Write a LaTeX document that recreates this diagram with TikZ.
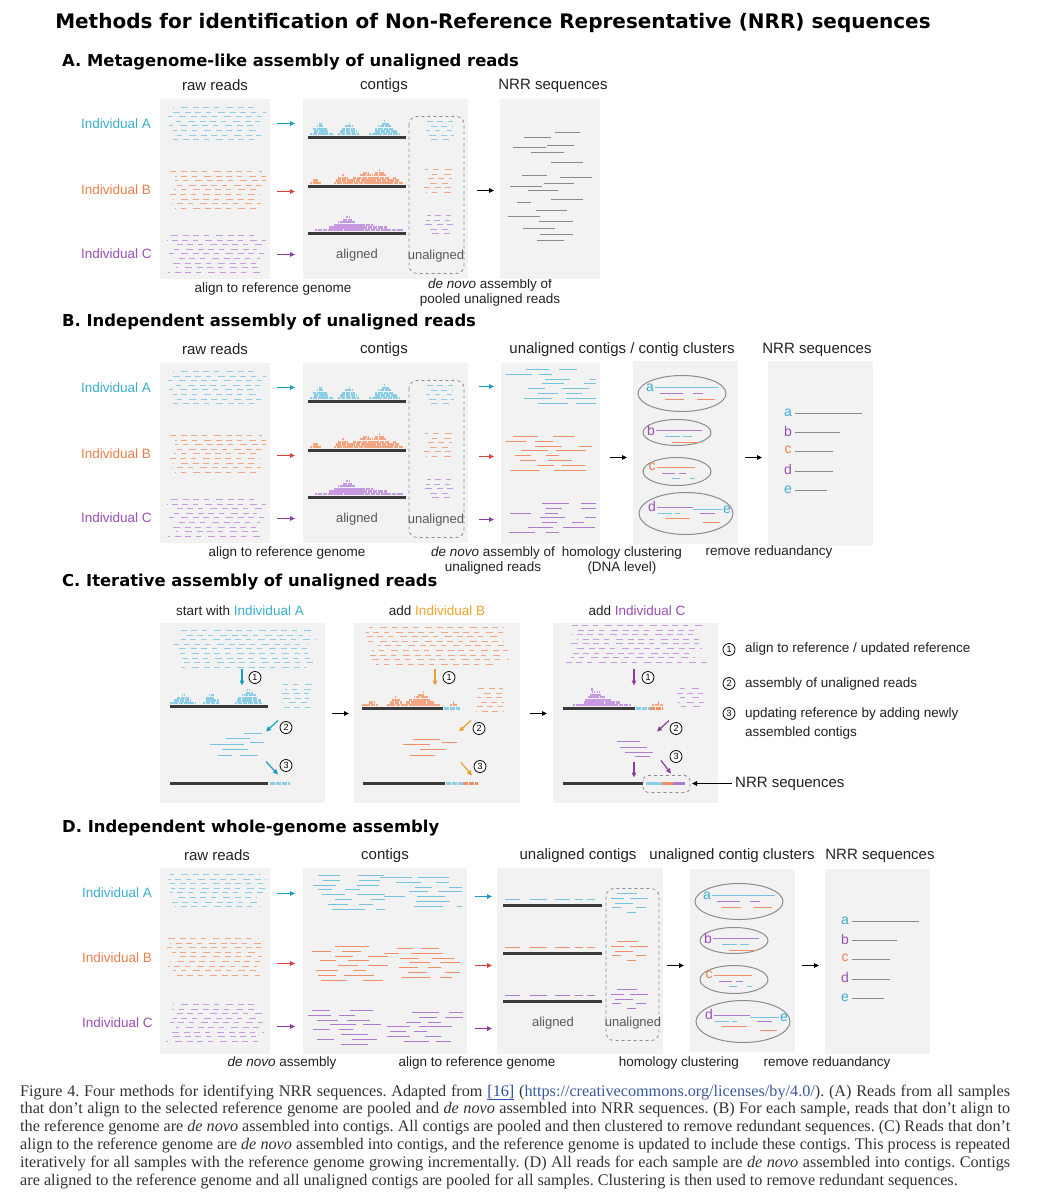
\documentclass[tikz,border=0pt]{standalone}
\usepackage{fontspec}
\setmainfont{Liberation Sans}
\newfontfamily\headfont{DejaVu Sans}
\newfontfamily\capfont{Liberation Serif}
\usetikzlibrary{arrows.meta}
\definecolor{cyA}{HTML}{3AAFCF}
\definecolor{cyL}{HTML}{8CCDE8}
\definecolor{cyM}{HTML}{72C2E0}
\definecolor{cyArr}{HTML}{1B9DBF}
\definecolor{orB}{HTML}{E8804E}
\definecolor{orL}{HTML}{F4A581}
\definecolor{orM}{HTML}{F08F66}
\definecolor{redArr}{HTML}{D9443C}
\definecolor{puC}{HTML}{9B50B3}
\definecolor{puL}{HTML}{C898E0}
\definecolor{puM}{HTML}{B07AD3}
\definecolor{puArr}{HTML}{8C3D9E}
\definecolor{yeB}{HTML}{F0A52A}
\definecolor{yeArr}{HTML}{E9A030}
\definecolor{boxbg}{HTML}{F2F2F2}
\definecolor{barc}{HTML}{3A3A3A}
\definecolor{nrrc}{HTML}{8A8A8A}
\definecolor{ellc}{HTML}{8C8C8C}
\definecolor{txt}{HTML}{222222}
\definecolor{linkblue}{HTML}{2A4BA8}
\definecolor{urlc}{HTML}{3B5A9A}

\tikzset{
  lab/.style={font=\fontsize{13.5}{14.5}\selectfont, inner sep=0pt, text=txt},
  colhead/.style={font=\fontsize{15}{17}\selectfont, inner sep=0pt, text=txt},
  sechead/.style={font=\headfont\bfseries\fontsize{16.4}{18}\selectfont, inner sep=0pt, anchor=west},
  graylab/.style={font=\fontsize{13}{14}\selectfont, inner sep=0pt, text=black!65},
  letr/.style={font=\fontsize{14}{14}\selectfont, inner sep=0pt},
  refbar/.style={line width=3.5pt, draw=barc},
  arr/.style={line width=1.2pt, -{Triangle[length=5pt,width=4.6pt]}},
  ubox/.style={draw=black!45, dashed, rounded corners=8pt, line width=0.8pt},
  clus/.style={draw=ellc, line width=1pt},
  nrrline/.style={draw=nrrc, line width=1.1pt},
  cline/.style={line width=1.3pt},
  circnum/.style={circle, draw=black, line width=0.8pt, inner sep=0pt, minimum size=12pt, font=\fontsize{9}{9}\selectfont, fill=white},
}

% random short reads in rows
\newcommand\rawfield[6]{%
  \pgfmathsetseed{#6}%
  \foreach \rr in {1,...,#4}{
    \pgfmathsetmacro\rY{round(#3+(\rr-1)*4.6)}
    \pgfmathsetmacro\rA{#1+rnd*0.1*(#2-#1)}
    \pgfmathsetmacro\rB{#2-rnd*0.1*(#2-#1)}
    \pgfmathsetmacro\rP{rnd*40}
    \draw[#5,line width=1.6pt,dash pattern=on 6pt off 5pt on 5pt off 7pt on 7pt off 5pt on 6pt off 4pt,dash phase=\rP pt] (\rA,\rY) -- (\rB,\rY);
  }}
% stacked aligned reads
\newcommand\pileup[6]{%
  \pgfmathsetseed{#6}%
  \foreach \kk in {1,...,#4}{
    \pgfmathsetmacro\pY{#3-3.5-(\kk-1)*2.6}
    \pgfmathsetmacro\pS{(\kk-1)/#4*(#2-#1)/2}
    \pgfmathsetmacro\pA{#1+\pS+rnd*3}
    \pgfmathsetmacro\pB{#2-\pS-rnd*3}
    \pgfmathsetmacro\pP{\kk*2.3}
    \draw[#5,line width=2.2pt,dash pattern=on 4.5pt off 0.8pt,dash phase=\pP pt] (\pA,\pY) -- (\pB,\pY);
  }}
% contig lines
\newcommand\contigfield[6]{%
  \pgfmathsetseed{#6}%
  \foreach \rr in {1,...,#4}{
    \pgfmathsetmacro\cY{round(#3+(\rr-1)*4.8)}
    \pgfmathsetmacro\cA{#1+rnd*(#2-#1)*0.45}
    \pgfmathsetmacro\cL{14+rnd*20}
    \draw[#5,cline] (\cA,\cY) -- ++(\cL,0);
    \pgfmathsetmacro\cB{\cA+\cL+6+rnd*15}
    \pgfmathsetmacro\cM{min(12+rnd*22,#2-\cB)}
    \ifdim\cM pt>4pt \draw[#5,cline] (\cB,\cY) -- ++(\cM,0); \fi
  }}

% raw reads + contigs part of panels A and B
\newcommand\leftpart[2]{%
\begin{scope}[shift={(0,#1)}]
  \node[colhead] (#2raw) at (215,85) {raw reads};
  \node[colhead] (#2con) at (384,85) {contigs};
  \node[lab,text=cyA,anchor=west] (#2iA) at (81,123) {Individual A};
  \node[lab,text=orB,anchor=west] (#2iB) at (81,189) {Individual B};
  \node[lab,text=puC,anchor=west] (#2iC) at (81,253) {Individual C};
  \fill[boxbg] (160,98) rectangle (270,278);
  \rawfield{166}{266}{107}{8}{cyL}{11}
  \rawfield{166}{266}{171}{9}{orL}{12}
  \rawfield{166}{266}{235}{9}{puL}{13}
  \draw[arr,cyArr] (277,123) -- (295,123);
  \draw[arr,redArr] (277,191) -- (295,191);
  \draw[arr,puArr] (277,254) -- (295,254);
  \fill[boxbg] (303,98) rectangle (468,278);
  \pileup{308}{333}{137}{5}{cyL}{21}
  \pileup{337}{360}{137}{5}{cyL}{22}
  \pileup{369}{401}{137}{6}{cyL}{23}
  \pileup{308}{324}{186}{2}{orL}{24}
  \pileup{333}{354}{186}{4}{orL}{25}
  \pileup{345}{386}{186}{5}{orL}{26}
  \pileup{362}{396}{186}{6}{orL}{27}
  \pileup{384}{405}{186}{3}{orL}{28}
  \pileup{314}{405}{233}{3}{puL}{29}
  \pileup{322}{372}{233}{5}{puL}{30}
  \pileup{334}{362}{233}{6}{puL}{31}
  \draw[refbar] (308,137) -- (406,137);
  \draw[refbar] (308,186) -- (406,186);
  \draw[refbar] (308,233) -- (406,233);
  \draw[ubox] (409,116) rectangle (464,273);
  \rawfield{424}{454}{121}{5}{cyL}{41}
  \rawfield{424}{454}{169}{6}{orL}{42}
  \rawfield{424}{454}{215}{5}{puL}{43}
  \node[graylab] (#2al) at (357,255) {aligned};
  \node[graylab] (#2un) at (436,256) {unaligned};
\end{scope}}

% clusters + NRR part of panels B and D
\newcommand\clusterpart[3]{%
\begin{scope}[shift={(#1,#2)}]
  \draw[arr,black] (610,457) -- (627,457);
  \fill[boxbg] (633,360) rectangle (738,543);
  \draw[arr,black] (745,457) -- (762,457);
  \fill[boxbg] (768,360) rectangle (873,545);
  \draw[clus] (682,393) ellipse [x radius=44, y radius=18];
  \draw[clus] (677,432) ellipse [x radius=34, y radius=13];
  \draw[clus] (677,471) ellipse [x radius=34, y radius=14];
  \draw[clus] (686,513) ellipse [x radius=47, y radius=21];
  \draw[cyM,cline] (655,387) -- (718,387);
  \draw[puM,cline] (660,393) -- (683,393) (693,393) -- (703,393);
  \draw[orM,cline] (665,399) -- (684,399) (697,399) -- (715,399);
  \draw[puM,cline] (656,430) -- (702,430);
  \draw[cyM,cline] (665,436) -- (680,436) (683,436) -- (692,436);
  \draw[orM,cline] (672,442) -- (700,442);
  \draw[orM,cline] (657,467) -- (695,467);
  \draw[puM,cline] (662,473) -- (675,473) (679,473) -- (686,473);
  \draw[cyM,cline] (672,478) -- (680,478) (690,478) -- (695,478);
  \draw[puM,cline] (657,507) -- (693,507);
  \draw[cyM,cline] (693,509) -- (722,509);
  \draw[cyM,cline] (658,513) -- (672,513) (675,513) -- (680,513);
  \draw[puM,cline] (700,513) -- (715,513);
  \draw[orM,cline] (665,518) -- (690,518);
  \draw[orM,cline] (703,522) -- (720,522);
  \node[letr,text=cyA] (#3ca) at (650,387) {a};
  \node[letr,text=puC] (#3cb) at (651,430) {b};
  \node[letr,text=orB] (#3cc) at (652,466) {c};
  \node[letr,text=puC] (#3cd) at (652,506) {d};
  \node[letr,text=cyA] (#3ce) at (727,509) {e};
  \node[letr,text=cyA] (#3na) at (788,412) {a};
  \node[letr,text=puC] (#3nb) at (788,431) {b};
  \node[letr,text=orB] (#3nc) at (788,449) {c};
  \node[letr,text=puC] (#3nd) at (788,469) {d};
  \node[letr,text=cyA] (#3ne) at (788,489) {e};
  \draw[nrrline] (795,413) -- (862,413);
  \draw[nrrline] (795,432) -- (840,432);
  \draw[nrrline] (795,451) -- (833,451);
  \draw[nrrline] (795,471) -- (833,471);
  \draw[nrrline] (795,490) -- (827,490);
\end{scope}}

\begin{document}
\begin{tikzpicture}[x=1pt,y=-1pt]
\useasboundingbox (0,0) rectangle (1037,1200);
\fill[white] (0,0) rectangle (1037,1200);
\begin{scope}[yshift=-0.5pt]

\node[font=\headfont\bfseries\fontsize{20}{22}\selectfont, inner sep=0pt] (title) at (493,22) {Methods for identification of Non-Reference Representative (NRR) sequences};

% ---------------- Panel A
\node[sechead] (hA) at (62,62) {A. Metagenome-like assembly of unaligned reads};
\leftpart{0}{A}
\node[lab] (Aalign) at (273,289) {align to reference genome};
\node[lab,align=center] (Adenovo) at (490,292) {\textit{de novo} assembly of\\pooled unaligned reads};
\node[colhead] (Anrr) at (553,85) {NRR sequences};
\fill[boxbg] (500,98) rectangle (600,278);
\draw[arr,black] (477,190) -- (494,190);
\foreach \xa/\xb/\yy in {555/580/132, 524/551/137, 513/546/147, 547/574/145, 531/564/152, 551/583/162, 522/547/175, 560/592/177, 510/542/186, 544/574/183, 528/558/190, 551/583/199, 517/531/202, 536/567/210, 508/540/216, 539/573/221, 523/555/228, 540/573/234, 537/564/240}
  \draw[nrrline] (\xa,\yy) -- (\xb,\yy);

% ---------------- Panel B
\node[sechead] (hB) at (62,322) {B. Independent assembly of unaligned reads};
\leftpart{264}{B}
\node[lab] (Balign) at (287,553) {align to reference genome};
\node[lab,align=center] (Bdenovo) at (493,560) {\textit{de novo} assembly of\\unaligned reads};
\node[colhead] (Buc) at (622,349) {unaligned contigs / contig clusters};
\node[colhead] (Bnrr) at (817,349) {NRR sequences};
\fill[boxbg] (501,362) rectangle (600,543);
\contigfield{505}{596}{369}{8}{cyM}{51}
\contigfield{505}{596}{436}{8}{orM}{52}
\contigfield{505}{596}{503}{7}{puM}{53}
\draw[arr,cyArr] (479,386) -- (494,386);
\draw[arr,redArr] (479,456) -- (494,456);
\draw[arr,puArr] (479,519) -- (494,519);
\clusterpart{0}{0}{B}
\node[lab,align=center] (Bhomol) at (622,560) {homology clustering\\(DNA level)};
\node[lab] (Bremove) at (769,552) {remove reduandancy};

% ---------------- Panel C
\node[sechead] (hC) at (62,582) {C. Iterative assembly of unaligned reads};
\node[lab] (Ct1) at (240,610) {start with \textcolor{cyA}{Individual A}};
\node[lab] (Ct2) at (437,610) {add \textcolor{yeB}{Individual B}};
\node[lab] (Ct3) at (637,610) {add \textcolor{puC}{Individual C}};
\fill[boxbg] (160,622) rectangle (325,802);
\fill[boxbg] (354,622) rectangle (520,802);
\fill[boxbg] (553,622) rectangle (718,802);
% box 1
\rawfield{172}{318}{630}{9}{cyL}{61}
\draw[arr,cyArr] (242,668) -- (242,685);
\node[circnum] (C1n1) at (255,677) {1};
\pileup{170}{197}{706}{4}{cyL}{62}
\pileup{200}{222}{706}{4}{cyL}{63}
\pileup{233}{265}{706}{6}{cyL}{64}
\draw[refbar] (170,706) -- (268,706);
\rawfield{282}{312}{684}{6}{cyL}{65}
\draw[arr,cyArr] (278,720) -- (266,731);
\node[circnum] (C1n2) at (286,727) {2};
\foreach \xa/\xb/\yy in {244/262/733, 226/250/738, 250/264/742, 210/244/744, 222/248/749, 218/232/755, 240/258/755}
  \draw[cyM,cline] (\xa,\yy) -- (\xb,\yy);
\draw[arr,cyArr] (266,761) -- (278,774);
\node[circnum] (C1n3) at (286,765) {3};
\draw[refbar] (170,783) -- (268,783);
\draw[cyL,line width=3pt,dash pattern=on 5pt off 1pt] (270,783) -- (290,783);
\draw[arr,black] (332,713) -- (349,713);
% box 2
\rawfield{363}{511}{627}{9}{orL}{71}
\draw[arr,yeArr] (435,668) -- (435,685);
\node[circnum] (C2n1) at (449,677) {1};
\pileup{362}{380}{708}{2}{orL}{72}
\pileup{385}{406}{708}{4}{orL}{73}
\pileup{399}{441}{708}{5}{orL}{74}
\pileup{412}{434}{708}{6}{orL}{75}
\pileup{447}{458}{708}{2}{orL}{76}
\draw[refbar] (362,708) -- (443,708);
\draw[cyL,line width=3pt,dash pattern=on 5pt off 1pt] (444,708) -- (460,708);
\rawfield{476}{505}{688}{6}{orL}{77}
\draw[arr,yeArr] (471,720) -- (459,731);
\node[circnum] (C2n2) at (479,728) {2};
\foreach \xa/\xb/\yy in {413/440/739, 442/457/742, 403/430/744, 420/445/749, 410/435/755}
  \draw[orM,cline] (\xa,\yy) -- (\xb,\yy);
\draw[arr,yeArr] (461,762) -- (472,775);
\node[circnum] (C2n3) at (480,766) {3};
\draw[refbar] (363,783) -- (445,783);
\draw[cyL,line width=3pt,dash pattern=on 5pt off 1pt] (446,783) -- (463,783);
\draw[orM,line width=3pt,dash pattern=on 5pt off 1pt] (463,783) -- (478,783);
\draw[arr,black] (530,713) -- (547,713);
% box 3
\rawfield{563}{708}{625}{9}{puL}{81}
\draw[arr,puArr] (634,668) -- (634,685);
\node[circnum] (C3n1) at (648,677) {1};
\pileup{573}{633}{708}{3}{puL}{82}
\pileup{577}{617}{708}{6}{puL}{83}
\pileup{582}{602}{708}{7}{puL}{84}
\pileup{651}{663}{708}{2}{orL}{85}
\draw[refbar] (563,708) -- (635,708);
\draw[cyL,line width=3pt,dash pattern=on 5pt off 1pt] (636,708) -- (650,708);
\draw[orM,line width=3pt,dash pattern=on 5pt off 1pt] (650,708) -- (663,708);
\rawfield{676}{705}{688}{5}{puL}{86}
\draw[arr,puArr] (669,720) -- (657,731);
\node[circnum] (C3n2) at (676,728) {2};
\foreach \xa/\xb/\yy in {617/640/741, 620/647/747, 625/653/752, 635/650/756}
  \draw[puM,cline] (\xa,\yy) -- (\xb,\yy);
\draw[arr,puArr] (634,761) -- (634,777);
\draw[arr,puArr] (661,760) -- (671,773);
\node[circnum] (C3n3) at (676,756) {3};
\draw[refbar] (563,783) -- (643,783);
\draw[cyL,line width=3pt] (646,783) -- (662,783);
\draw[orM,line width=3pt] (662,783) -- (673,783);
\draw[puM,line width=3pt] (673,783) -- (685,783);
\draw[ubox,rounded corners=5pt] (643,775) rectangle (690,792);
\node[colhead,anchor=west] (Cnrr) at (735,783) {NRR sequences};
\draw[arr,black,line width=1pt] (Cnrr.west) ++(-3,0) -- (692,783);
% legend
\node[circnum] (L1) at (729,649) {1};
\node[circnum] (L2) at (729,683) {2};
\node[circnum] (L3) at (729,713) {3};
\node[lab,anchor=west] (L1t) at (745,649) {align to reference / updated reference};
\node[lab,anchor=west] (L2t) at (745,683) {assembly of unaligned reads};
\node[lab,anchor=west] (L3t) at (745,713) {updating reference by adding newly};
\node[lab,anchor=west] (L4t) at (745,732) {assembled contigs};

% ---------------- Panel D
\node[sechead] (hD) at (62,828) {D. Independent whole-genome assembly};
\node[colhead] (Draw) at (217,855) {raw reads};
\node[colhead] (Dcon) at (385,855) {contigs};
\node[colhead] (Duc) at (578,855) {unaligned contigs};
\node[colhead] (Ducc) at (732,855) {unaligned contig clusters};
\node[colhead] (Dnrr) at (880,855) {NRR sequences};
\node[lab,text=cyA,anchor=west] (DiA) at (82,892) {Individual A};
\node[lab,text=orB,anchor=west] (DiB) at (82,957) {Individual B};
\node[lab,text=puC,anchor=west] (DiC) at (82,1022) {Individual C};
\fill[boxbg] (160,867) rectangle (270,1053);
\rawfield{166}{266}{874}{8}{cyL}{91}
\rawfield{166}{266}{938}{9}{orL}{92}
\rawfield{166}{266}{1004}{9}{puL}{93}
\draw[arr,cyArr] (277,893) -- (295,893);
\draw[arr,redArr] (277,963) -- (295,963);
\draw[arr,puArr] (277,1026) -- (295,1026);
\fill[boxbg] (303,867) rectangle (467,1053);
\contigfield{307}{385}{875}{8}{cyM}{101}
\contigfield{380}{462}{877}{7}{cyM}{102}
\contigfield{310}{388}{946}{8}{orM}{103}
\contigfield{383}{460}{948}{7}{orM}{104}
\contigfield{308}{388}{1010}{8}{puM}{105}
\contigfield{383}{463}{1012}{7}{puM}{106}
\draw[arr,cyArr] (475,896) -- (492,896);
\draw[arr,redArr] (475,965) -- (492,965);
\draw[arr,puArr] (475,1028) -- (492,1028);
\fill[boxbg] (497,867) rectangle (663,1053);
\foreach \yy/\cc in {899/cyM, 947/orM, 995/puM}{
  \foreach \xa/\xb in {505/520, 530/547, 555/570, 575/583, 587/595}
    \draw[\cc,cline] (\xa,\yy) -- (\xb,\yy);
}
\draw[refbar] (503,905) -- (602,905);
\draw[refbar] (503,953) -- (602,953);
\draw[refbar] (503,1001) -- (602,1001);
\draw[ubox] (606,888) rectangle (659,1040);
\foreach \ss/\cc in {0/cyM, 48/orM, 96/puM}{
  \foreach \xa/\xb/\yy in {617/637/893, 611/624/898, 630/648/898, 615/633/903, 612/621/907, 636/646/907, 627/636/912}
    \draw[\cc,cline] (\xa,\yy+\ss) -- (\xb,\yy+\ss);
}
\node[graylab] (Dal) at (553,1023) {aligned};
\node[graylab] (Dun) at (633,1023) {unaligned};
\clusterpart{57}{508}{D}
\node[lab] (Ddenovo) at (282,1062) {\textit{de novo} assembly};
\node[lab] (Dalign) at (477,1062) {align to reference genome};
\node[lab] (Dhomol) at (679,1062) {homology clustering};
\node[lab] (Dremove) at (827,1062) {remove reduandancy};

% ---------------- Caption
\node[anchor=north west, inner sep=0pt, text width=990pt, align=justify, text=black!80,
      font=\capfont\fontsize{16.2}{17.8}\selectfont] (caption) at (20,1084)
{\frenchspacing Figure 4. Four methods for identifying NRR sequences. Adapted from \textcolor{linkblue}{\underline{[16]}} (\textcolor{urlc}{https://creativecommons.org/licenses/by/4.0/}). (A) Reads from all samples\linebreak
that don’t align to the selected reference genome are pooled and \textit{de novo} assembled into NRR sequences. (B) For each sample, reads that don’t align to\linebreak
the reference genome are \textit{de novo} assembled into contigs. All contigs are pooled and then clustered to remove redundant sequences. (C) Reads that don’t\linebreak
align to the reference genome are \textit{de novo} assembled into contigs, and the reference genome is updated to include these contigs. This process is repeated\linebreak
iteratively for all samples with the reference genome growing incrementally. (D) All reads for each sample are \textit{de novo} assembled into contigs. Contigs\linebreak
are aligned to the reference genome and all unaligned contigs are pooled for all samples. Clustering is then used to remove redundant sequences.};
\end{scope}
\end{tikzpicture}
\end{document}
